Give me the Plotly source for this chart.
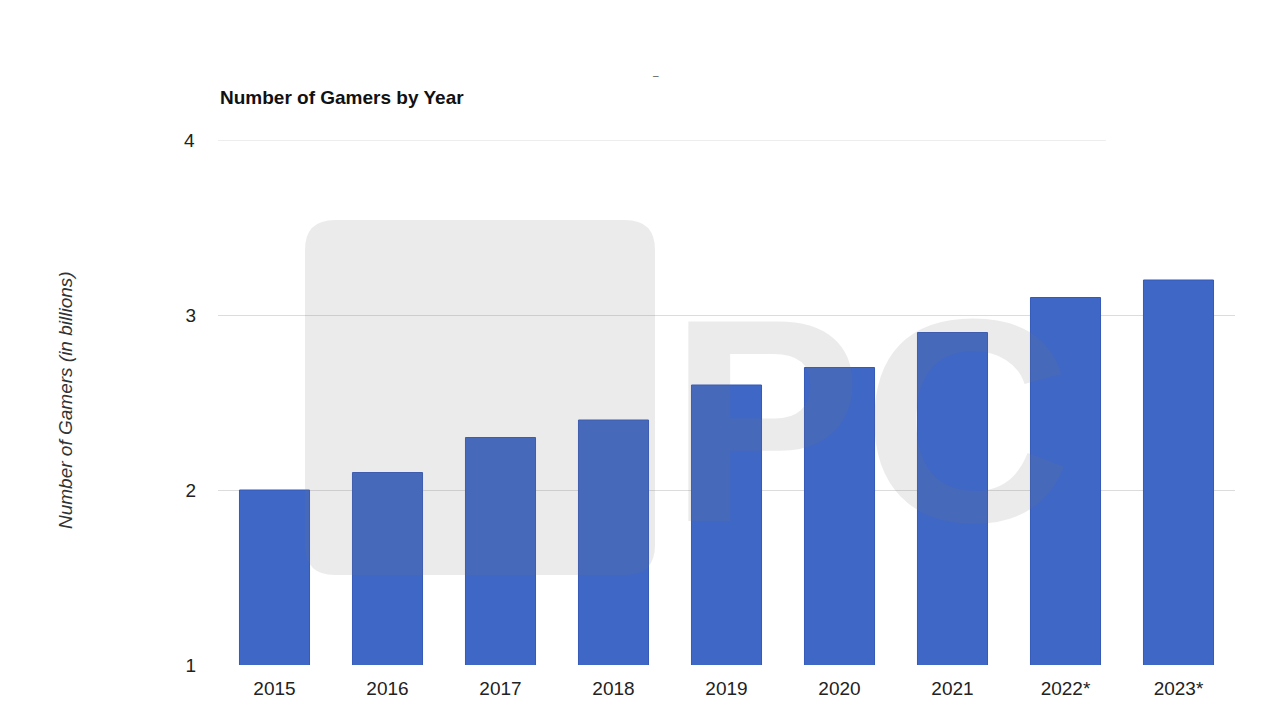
import plotly.graph_objects as go

years = ["2015", "2016", "2017", "2018", "2019", "2020", "2021", "2022*", "2023*"]
gamers_billions = [2.0, 2.1, 2.3, 2.4, 2.6, 2.7, 2.9, 3.1, 3.2]
y_ticks = [1, 2, 3, 4]

fig = go.Figure()
fig.add_trace(go.Bar(
    x=years, y=gamers_billions,
    marker=dict(color="#3F67C6", line=dict(color="#3559B8", width=1)),
    hoverinfo="x+y",
))

grid_col = "#DCDCDC"
PW, PH = 1017.0, 525.0
fig.update_layout(
    width=1280, height=720,
    paper_bgcolor="white", plot_bgcolor="white",
    margin=dict(l=210, r=53, t=132, b=63),
    bargap=0.38,
    showlegend=False,
    font=dict(family="Liberation Sans, Arial, sans-serif", size=18, color="#222222"),
    xaxis=dict(showgrid=False, showline=False, ticks="", tickfont=dict(size=19),
               ticklabelstandoff=10),
    yaxis=dict(range=[1, 4], tickvals=y_ticks[:-1], showgrid=True, gridcolor=grid_col,
               gridwidth=1.2, zeroline=False, showline=False, ticks="",
               ticklabelstandoff=21, tickfont=dict(size=19)),
)

# top gridline (shorter in reference) + its label
fig.add_shape(type="line", xref="paper", yref="y", x0=0, x1=0.873, y0=y_ticks[-1], y1=y_ticks[-1],
              line=dict(color=grid_col, width=1.2), layer="below")
fig.add_annotation(xref="paper", yref="y", x=0, y=y_ticks[-1], text=str(y_ticks[-1]),
                   showarrow=False, xanchor="right", xshift=-21, font=dict(size=19))

# watermark approximation (rounded square + "PC")
def px(x):
    return (x - 218) / PW
def py(y):
    return (665 - y) / PH
x0, x1, y0, y1 = px(305), px(655), py(575), py(220)
rx, ry = 30 / PW, 30 / PH
path = (f"M {x0+rx},{y0} L {x1-rx},{y0} Q {x1},{y0} {x1},{y0+ry} "
        f"L {x1},{y1-ry} Q {x1},{y1} {x1-rx},{y1} L {x0+rx},{y1} Q {x0},{y1} {x0},{y1-ry} "
        f"L {x0},{y0+ry} Q {x0},{y0} {x0+rx},{y0} Z")
fig.add_shape(type="path", xref="paper", yref="paper", path=path,
              fillcolor="rgba(120,120,120,0.15)", line=dict(width=0), layer="above")
fig.add_annotation(xref="paper", yref="paper", x=px(870), y=py(420),
                   text="<b>PC</b>", showarrow=False, xanchor="center",
                   font=dict(size=290, color="rgba(120,120,120,0.15)", family="Liberation Sans"))

# title
fig.add_annotation(xref="paper", yref="paper", x=0, y=py(98), xanchor="left", yanchor="middle",
                   text="<b>Number of Gamers by Year</b>", showarrow=False,
                   font=dict(size=19, color="#111111"))
# y axis title
fig.add_annotation(xref="paper", yref="paper", x=px(65), y=py(400), xanchor="center", yanchor="middle",
                   text="<i>Number of Gamers (in billions)</i>", textangle=-90, showarrow=False,
                   font=dict(size=19, color="#333333"))
# small dash at top
fig.add_annotation(xref="paper", yref="paper", x=px(656), y=py(75), xanchor="center", yanchor="middle",
                   text="–", showarrow=False, font=dict(size=10, color="#555555"))

fig.write_html("out.html")
